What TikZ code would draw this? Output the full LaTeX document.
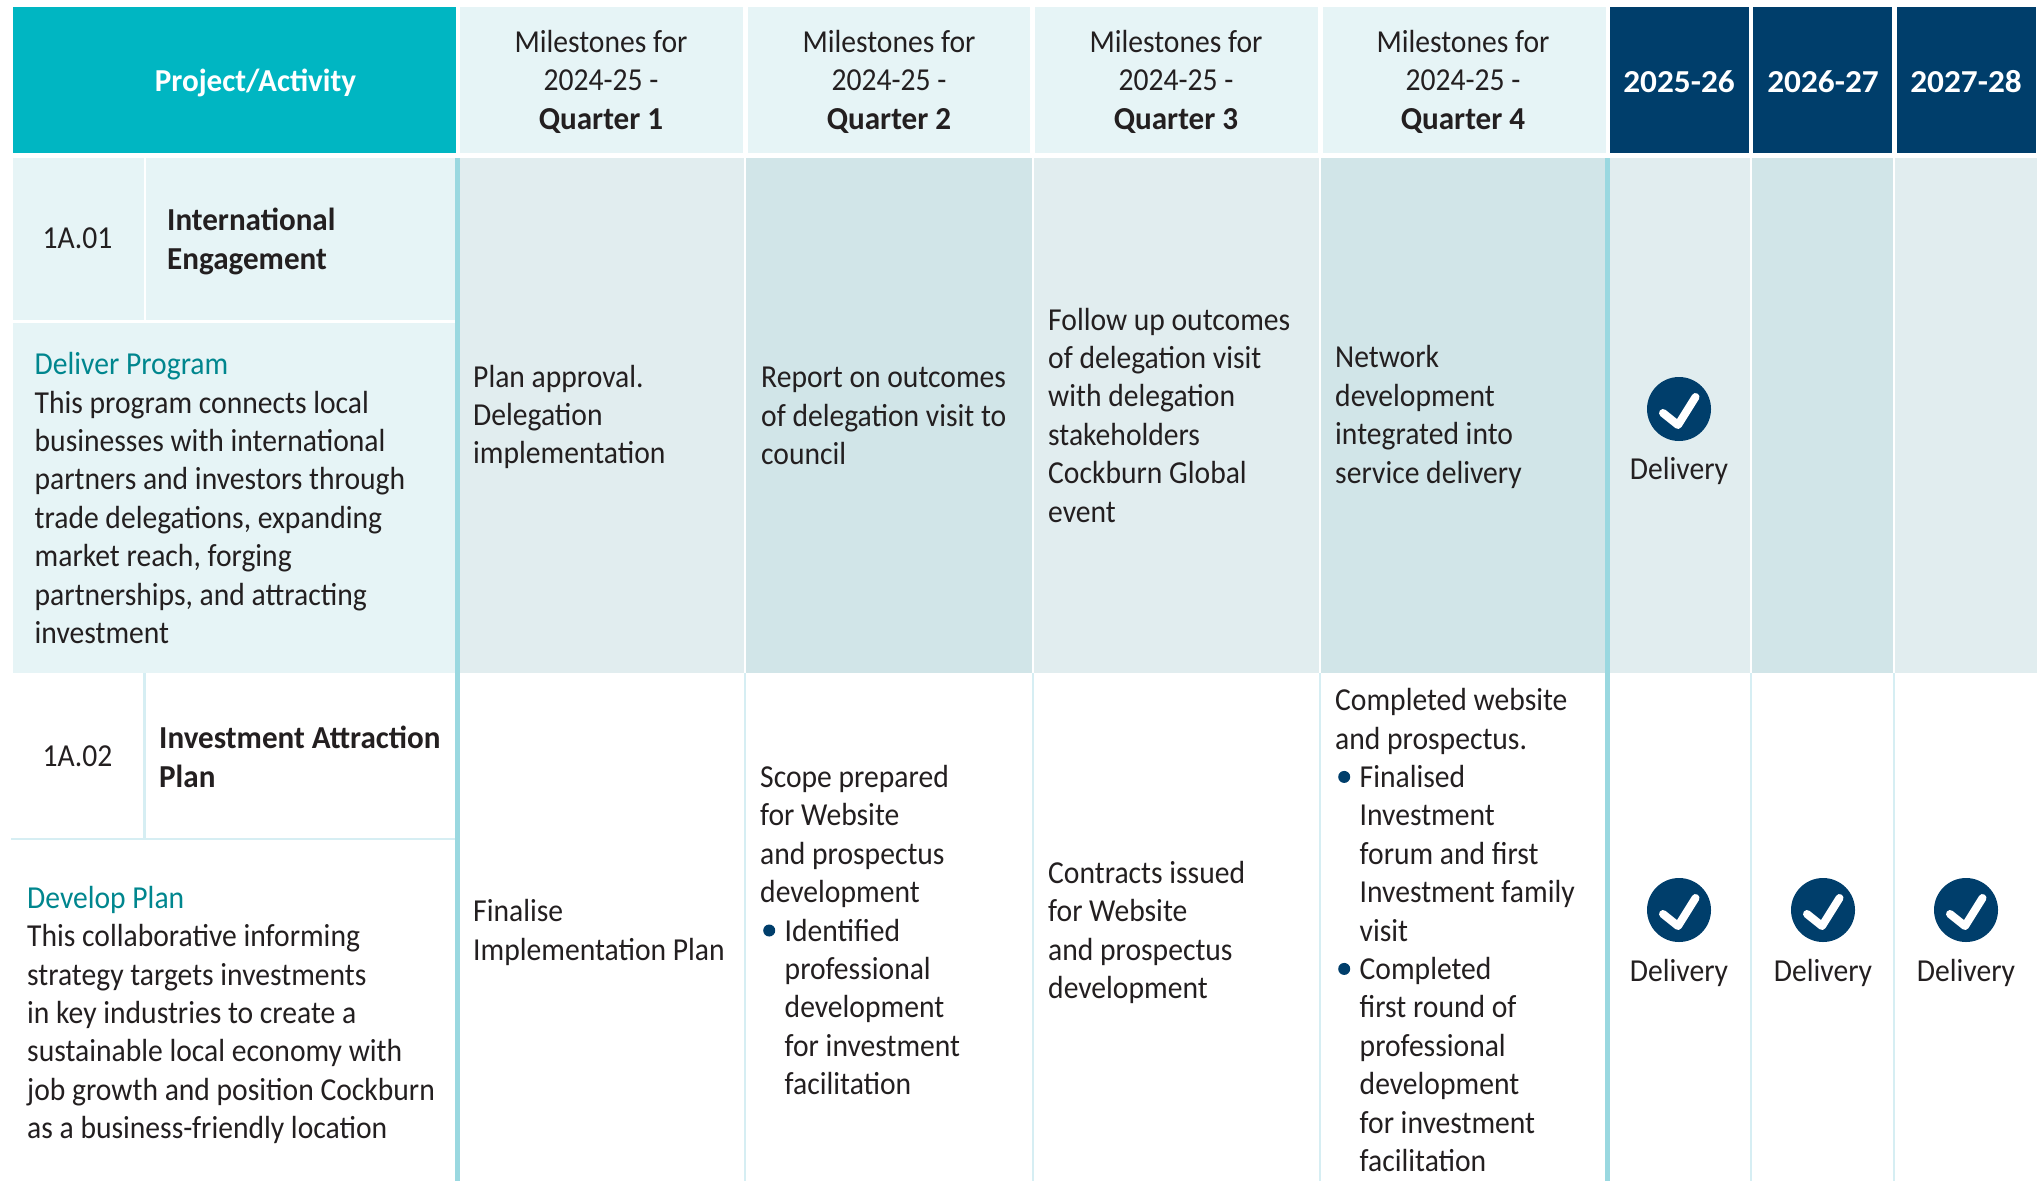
\documentclass[tikz,border=0pt]{standalone}
\usepackage{fontspec}
\setmainfont[FakeStretch=0.925,BoldFeatures={FakeStretch=0.972}]{Carlito}
\newfontfamily\yearfont[FakeStretch=1.04,BoldFeatures={FakeStretch=1.04}]{Carlito}
\definecolor{headteal}{HTML}{00B6C2}
\definecolor{palecell}{HTML}{E6F4F6}
\definecolor{rowlight}{HTML}{E1EDEF}
\definecolor{rowdark}{HTML}{D1E5E8}
\definecolor{navy}{HTML}{003E6B}
\definecolor{thickline}{HTML}{9AD8E0}
\definecolor{thinline}{HTML}{D6EEF3}
\definecolor{tealtext}{HTML}{00868E}
\definecolor{ink}{HTML}{231F20}
\newcommand{\bitem}{\makebox[24.5pt][l]{\hspace{3pt}\tikz[baseline=-10.5pt]\fill[navy] (0,0) circle (6pt);}}
\newcommand{\bcont}{\makebox[24.5pt]{}}
\tikzset{
  x=1pt,y=-1pt,
  basetext/.style={text=ink,inner sep=0pt,font=\fontsize{32}{38.4}\selectfont},
  lefttext/.style={basetext,align=left,anchor=west},
  midtext/.style={basetext,align=center,anchor=center},
  whitehead/.style={midtext,text=white,font=\fontsize{32}{38.4}\selectfont\bfseries},
  yearhead/.style={midtext,text=white,font=\yearfont\fontsize{32}{38.4}\selectfont\bfseries},
  disc/.style={circle,fill=navy,inner sep=0pt,minimum size=64pt},
  tick/.style={draw=white,line width=8pt,line cap=round,line join=round},
  thin rule/.style={draw=thinline,line width=2.6pt},
  thick rule/.style={draw=thickline,line width=5.5pt}
}
\begin{document}
\begin{tikzpicture}
\useasboundingbox (0,0) rectangle (2044,1181);
% header
\fill[headteal] (13,7) rectangle (456,153);
\foreach \a/\b in {460/743,748/1030,1035/1318,1323/1606}{\fill[palecell] (\a,7) rectangle (\b,153);}
\foreach \a/\b in {1610/1749,1753/1892,1897/2036}{\fill[navy] (\a,7) rectangle (\b,153);}
% row 1
\fill[palecell] (13,158) rectangle (455,673);
\draw[white,line width=2.6pt] (145,158) -- (145,320);
\draw[white,line width=3pt] (13,321.5) -- (455,321.5);
\foreach \a/\b/\c in {460/744/rowlight,746/1032/rowdark,1034/1319/rowlight,1321/1605/rowdark,1610/1750/rowlight,1752/1893/rowdark,1895/2037/rowlight}{\fill[\c] (\a,158) rectangle (\b,673);}
% row 2 rules
\draw[thin rule] (144.5,673) -- (144.5,838);
\draw[thin rule] (11,839) -- (455,839);
\foreach \x in {745,1033,1320,1751,1894}{\draw[thin rule] (\x,673) -- (\x,1181);}
\draw[thick rule] (457.5,158) -- (457.5,1181);
\draw[thick rule] (1607.5,158) -- (1607.5,1181);
% header text
\node[whitehead] (hproj) at (255.5,83) {Project/Activity};
\node[midtext] (hq1) at (601,81.5) {Milestones for\\2024-25 -\\\textbf{Quarter 1}};
\node[midtext] (hq2) at (889,81.5) {Milestones for\\2024-25 -\\\textbf{Quarter 2}};
\node[midtext] (hq3) at (1176,81.5) {Milestones for\\2024-25 -\\\textbf{Quarter 3}};
\node[midtext] (hq4) at (1463,81.5) {Milestones for\\2024-25 -\\\textbf{Quarter 4}};
\node[yearhead] (hy1) at (1679,82) {2025-26};
\node[yearhead] (hy2) at (1823,82) {2026-27};
\node[yearhead] (hy3) at (1966,82) {2027-28};
% left column
\node[midtext] (ida) at (77.5,238.5) {1A.01};
\node[lefttext] (namea) at (167,241.5) {\textbf{International}\\\textbf{Engagement}};
\node[lefttext] (desca) at (34.5,498) {\textcolor{tealtext}{Deliver Program}\\This program connects local\\businesses with international\\partners and investors through\\trade delegations, expanding\\market reach, forging\\partnerships, and attracting\\investment};
\node[midtext] (idb) at (77.5,756) {1A.02};
\node[lefttext] (nameb) at (159,757) {\textbf{Investment Attraction}\\\textbf{Plan}};
\node[lefttext] (descb) at (27,1015) {\textcolor{tealtext}{Develop Plan}\\This collaborative informing\\strategy targets investments\\in key industries to create a\\sustainable local economy with\\job growth and position Cockburn\\as a business-friendly location};
% row 1 text
\node[lefttext] (a1) at (473,417) {Plan approval.\\Delegation\\implementation};
\node[lefttext] (a2) at (761,416) {Report on outcomes\\of delegation visit to\\council};
\node[lefttext] (a3) at (1048,415) {Follow up outcomes\\of delegation visit\\with delegation\\stakeholders\\Cockburn Global\\event};
\node[lefttext] (a4) at (1335,417) {Network\\development\\integrated into\\service delivery};
% row 2 text
\node[lefttext] (b1) at (473,932.5) {Finalise\\Implementation Plan};
\node[lefttext] (b2) at (760,930) {Scope prepared\\for Website\\and prospectus\\development\\\bitem Identified\\\bcont professional\\\bcont development\\\bcont for investment\\\bcont facilitation};
\node[lefttext] (b3) at (1048,932.5) {Contracts issued\\for Website\\and prospectus\\development};
\node[lefttext] (b4) at (1335,930) {Completed website\\and prospectus.\\\bitem Finalised\\\bcont Investment\\\bcont forum and first\\\bcont Investment family\\\bcont visit\\\bitem Completed\\\bcont first round of\\\bcont professional\\\bcont development\\\bcont for investment\\\bcont facilitation};
% delivery marks
\foreach \n/\x/\y/\d in {ca/1679/409/62,cb/1679/910/62.5,cc/1823/910/62.5,cd/1966/910/62.5}{
  \node[disc] (\n) at (\x,\y) {};
  \draw[tick] ([shift={(-16,4)}]\n.center) -- ([shift={(-1,16)}]\n.center) -- ([shift={(16.5,-12)}]\n.center);
  \node[midtext] (\n t) at ([yshift=-\d pt]\n.center) {Delivery};
}
\end{tikzpicture}
\end{document}
